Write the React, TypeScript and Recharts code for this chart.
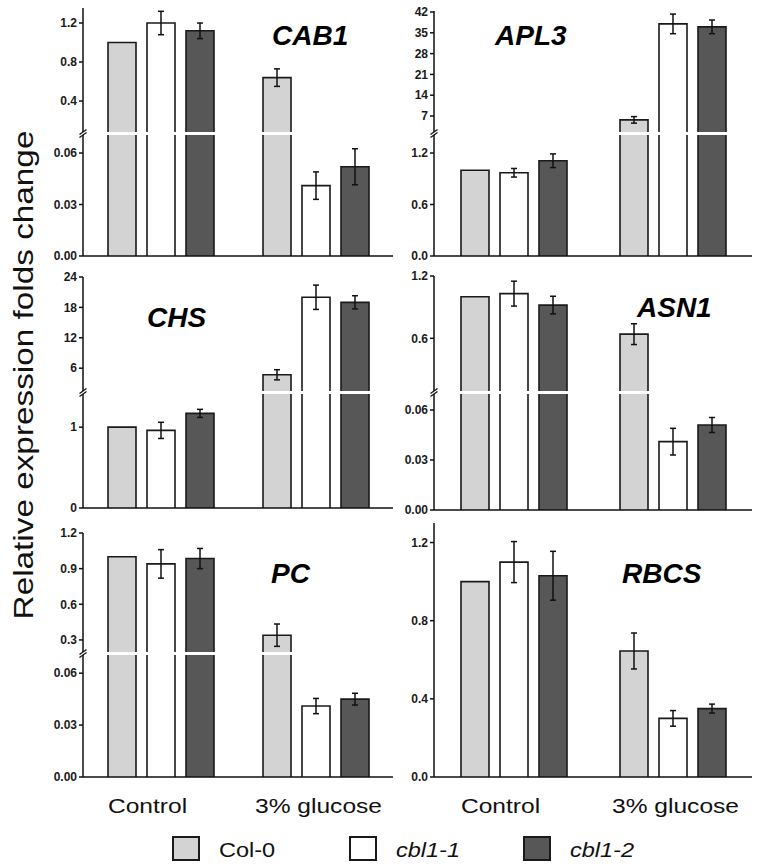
import { BarChart, Bar, XAxis, YAxis, ErrorBar } from "recharts";

const FONT = "'Liberation Sans', Arial, Helvetica, sans-serif";

// categories and genotypes
const categories = ["Control", "3% glucose"];
const seriesNames = ["Col-0", "cbl1-1", "cbl1-2"];
const seriesKeys = ["col0", "cbl11", "cbl12"];

// means / SE, [category][genotype]
const cab1Mean = [[1.0, 1.2, 1.12], [0.64, 0.041, 0.052]];
const cab1Err = [[0, 0.12, 0.08], [0.09, 0.008, 0.0105]];
const apl3Mean = [[1.0, 0.97, 1.11], [5.7, 38.0, 37.0]];
const apl3Err = [[0, 0.05, 0.08], [1.1, 3.3, 2.3]];
const chsMean = [[1.0, 0.96, 1.17], [4.7, 20.0, 19.0]];
const chsErr = [[0, 0.1, 0.05], [1.0, 2.4, 1.3]];
const asn1Mean = [[1.0, 1.03, 0.92], [0.64, 0.041, 0.051]];
const asn1Err = [[0, 0.12, 0.085], [0.1, 0.008, 0.0045]];
const pcMean = [[1.0, 0.94, 0.985], [0.34, 0.041, 0.045]];
const pcErr = [[0, 0.12, 0.085], [0.094, 0.0044, 0.0034]];
const rbcsMean = [[1.0, 1.1, 1.03], [0.645, 0.3, 0.35]];
const rbcsErr = [[0, 0.105, 0.125], [0.092, 0.04, 0.023]];

// y ticks
const cab1UpperTicks = [0.4, 0.8, 1.2];
const cab1LowerTicks = [0, 0.03, 0.06];
const apl3UpperTicks = [7, 14, 21, 28, 35, 42];
const apl3LowerTicks = [0, 0.6, 1.2];
const chsUpperTicks = [6, 12, 18, 24];
const chsLowerTicks = [0, 1];
const asn1UpperTicks = [0.6, 1.2];
const asn1LowerTicks = [0, 0.03, 0.06];
const pcUpperTicks = [0.3, 0.6, 0.9, 1.2];
const pcLowerTicks = [0, 0.03, 0.06];
const rbcsTicks = [0, 0.4, 0.8, 1.2];

const fills = ["#d3d3d3", "#ffffff", "#575757"];
const catLabelShift = [-13, 3];

function buildRows(mean: number[][], err: number[][]) {
    return categories.map((cat, i) => {
        const row: any = { cat };
        seriesKeys.forEach((k, j) => {
            row[k] = mean[i][j];
            row[k + "Err"] = err[i][j];
        });
        return row;
    });
}

// bar outline without the bottom edge (so the axis break stays clean)
function OpenBar(props: any) {
    const { x, y, width, height, fill } = props;
    // bars below the upper panel's base hang downwards -> out of view anyway
    if (x == null || y == null || !(height > 0)) return null;
    return (
        <g>
            <rect x={x} y={y} width={width} height={height} fill={fill} />
            <path
                d={`M${x},${y + height} L${x},${y} L${x + width},${y} L${x + width},${y + height}`}
                fill="none"
                stroke="#1a1a1a"
                strokeWidth={1.6}
            />
        </g>
    );
}

function CatTick(props: any) {
    const { x, y, payload, index } = props;
    return (
        <text
            transform={`translate(${x + catLabelShift[index]},${y + 36}) scale(1.17,1)`}
            textAnchor="middle"
            fontSize={21}
            fontFamily={FONT}
            fill="#111"
        >
            {payload.value}
        </text>
    );
}

interface PartProps {
    data: any[];
    left: number;
    width: number;
    axisW: number;
    plotTop: number;
    plotBottom: number;
    domain: [number, number];
    ticks: number[];
    digits: number;
    kind: "upper" | "lower" | "single";
    xLabels?: boolean;
}

function Part(p: PartProps) {
    const mt = p.kind === "lower" ? 0 : 8;
    const xh = p.kind === "upper" ? 0 : p.xLabels ? 46 : 8;
    const h = mt + (p.plotBottom - p.plotTop) + xh;
    // upper halves: trim 1px so error caps of values under the break don't peek through
    const boxH = p.kind === "upper" ? h - 1 : h;
    return (
        <div style={{ position: "absolute", left: p.left, top: p.plotTop - mt, height: boxH, overflow: "hidden" }}>
            <BarChart
                width={p.width}
                height={h}
                data={p.data}
                margin={{ top: mt, right: 0, bottom: 0, left: 0 }}
                barSize={28}
                barGap={11}
            >
                <XAxis
                    dataKey="cat"
                    hide={p.kind === "upper"}
                    height={xh}
                    interval={0}
                    axisLine={{ stroke: "#111", strokeWidth: 1.5 }}
                    tickLine={false}
                    tickSize={0}
                    tickMargin={0}
                    tick={p.xLabels ? <CatTick /> : false}
                />
                <YAxis
                    type="number"
                    domain={p.domain}
                    allowDataOverflow
                    ticks={p.ticks}
                    interval={0}
                    width={p.axisW}
                    tickSize={4}
                    tickMargin={2}
                    tickFormatter={(v: number) => v.toFixed(p.digits)}
                    tick={{ fontSize: 12, fontWeight: 700, fill: "#1a1a1a", fontFamily: FONT }}
                    axisLine={{ stroke: "#111", strokeWidth: 1.5 }}
                    tickLine={{ stroke: "#111", strokeWidth: 1.5 }}
                />
                {seriesKeys.map((k, i) => (
                    <Bar key={k} dataKey={k} fill={fills[i]} shape={<OpenBar />} isAnimationActive={false}>
                        <ErrorBar dataKey={k + "Err"} width={3} strokeWidth={1.5} stroke="#111" direction="y" />
                    </Bar>
                ))}
            </BarChart>
        </div>
    );
}

const LEFT = { left: 0, width: 393, axisW: 83 };
const RIGHT = { left: 380, width: 372, axisW: 54 };

function BreakMark({ x, y }: { x: number; y: number }) {
    return <line x1={x - 3.5} y1={y + 2.5} x2={x + 3.5} y2={y - 2.5} stroke="#111" strokeWidth={1.3} />;
}

export default function App() {
    const cab1 = buildRows(cab1Mean, cab1Err);
    const apl3 = buildRows(apl3Mean, apl3Err);
    const chs = buildRows(chsMean, chsErr);
    const asn1 = buildRows(asn1Mean, asn1Err);
    const pc = buildRows(pcMean, pcErr);
    const rbcs = buildRows(rbcsMean, rbcsErr);

    const breaks = [
        { x: 83, a: 132, b: 135 },
        { x: 434, a: 132, b: 135 },
        { x: 83, a: 391, b: 394 },
        { x: 434, a: 391, b: 394 },
        { x: 83, a: 652, b: 655 },
    ];
    const genes = [
        { name: "CAB1", x: 272, y: 45 },
        { name: "APL3", x: 495, y: 45 },
        { name: "CHS", x: 147, y: 327 },
        { name: "ASN1", x: 637, y: 317 },
        { name: "PC", x: 271, y: 583 },
        { name: "RBCS", x: 622, y: 583 },
    ];
    const legendX = [173, 350, 524];

    return (
        <div style={{ position: "absolute", left: 0, top: 0, width: 759, height: 865, background: "#fff", fontFamily: FONT }}>
            {/* CAB1 */}
            <Part {...LEFT} data={cab1} kind="upper" plotTop={8} plotBottom={133} domain={[0.072, 1.354]} ticks={cab1UpperTicks} digits={1} />
            <Part {...LEFT} data={cab1} kind="lower" plotTop={135} plotBottom={256} domain={[0, 0.0705]} ticks={cab1LowerTicks} digits={2} />
            {/* APL3 */}
            <Part {...RIGHT} data={apl3} kind="upper" plotTop={11} plotBottom={133} domain={[1.28, 42.34]} ticks={apl3UpperTicks} digits={0} />
            <Part {...RIGHT} data={apl3} kind="lower" plotTop={135} plotBottom={256} domain={[0, 1.41]} ticks={apl3LowerTicks} digits={1} />
            {/* CHS */}
            <Part {...LEFT} data={chs} kind="upper" plotTop={277} plotBottom={392} domain={[1.3, 24]} ticks={chsUpperTicks} digits={0} />
            <Part {...LEFT} data={chs} kind="lower" plotTop={394} plotBottom={508} domain={[0, 1.41]} ticks={chsLowerTicks} digits={0} />
            {/* ASN1 */}
            <Part {...RIGHT} data={asn1} kind="upper" plotTop={276} plotBottom={392} domain={[0.083, 1.2]} ticks={asn1UpperTicks} digits={1} />
            <Part {...RIGHT} data={asn1} kind="lower" plotTop={394} plotBottom={510} domain={[0, 0.0696]} ticks={asn1LowerTicks} digits={2} />
            {/* PC */}
            <Part {...LEFT} data={pc} kind="upper" plotTop={533} plotBottom={653} domain={[0.19, 1.2]} ticks={pcUpperTicks} digits={1} />
            <Part {...LEFT} data={pc} kind="lower" plotTop={655} plotBottom={777} domain={[0, 0.0705]} ticks={pcLowerTicks} digits={2} xLabels />
            {/* RBCS */}
            <Part {...RIGHT} data={rbcs} kind="single" plotTop={523} plotBottom={777} domain={[0, 1.3]} ticks={rbcsTicks} digits={1} xLabels />

            <svg width={759} height={865} style={{ position: "absolute", left: 0, top: 0, pointerEvents: "none" }}>
                <text
                    transform="translate(33,375) rotate(-90) scale(1.19,1)"
                    textAnchor="middle"
                    fontSize={28}
                    fontFamily={FONT}
                    fill="#111"
                >
                    Relative expression folds change
                </text>
                {breaks.map((b, i) => (
                    <g key={i}>
                        <BreakMark x={b.x} y={b.a} />
                        <BreakMark x={b.x} y={b.b} />
                    </g>
                ))}
                {genes.map((g) => (
                    <text key={g.name} x={g.x} y={g.y} fontSize={28} fontWeight={700} fontStyle="italic" fontFamily={FONT} fill="#000">
                        {g.name}
                    </text>
                ))}
                {seriesNames.map((name, i) => (
                    <g key={name}>
                        <rect x={legendX[i]} y={837} width={26} height={23} fill={fills[i]} stroke="#1a1a1a" strokeWidth={2} />
                        <text
                            transform={`translate(${legendX[i] + 46},857) scale(1.12,1)`}
                            fontSize={21}
                            fontStyle={i === 0 ? "normal" : "italic"}
                            fontFamily={FONT}
                            fill="#111"
                        >
                            {name}
                        </text>
                    </g>
                ))}
            </svg>
        </div>
    );
}
